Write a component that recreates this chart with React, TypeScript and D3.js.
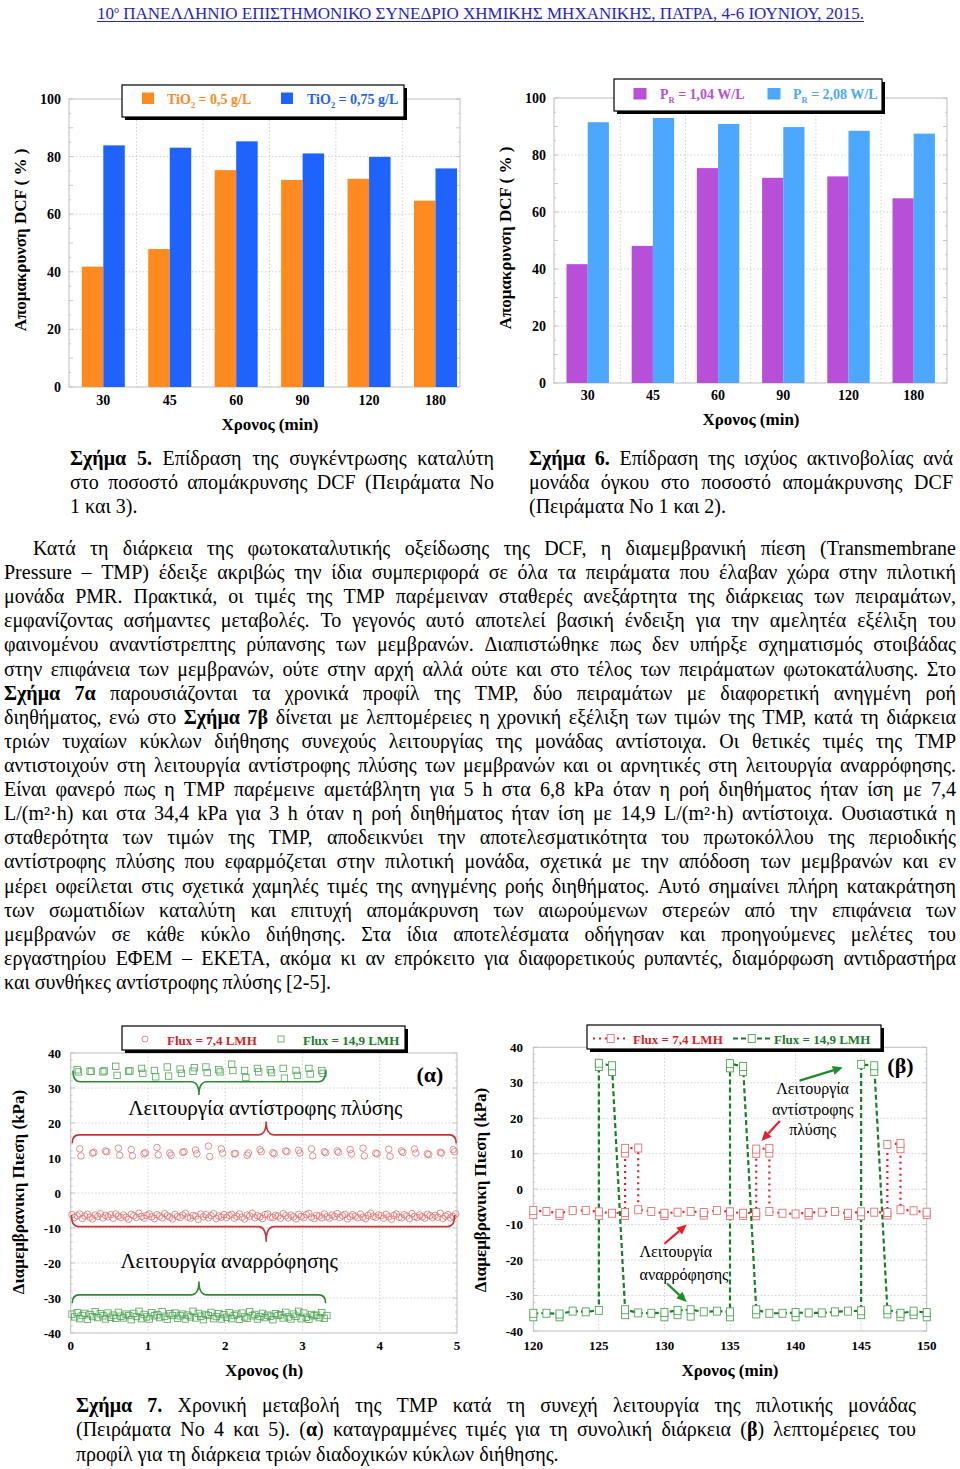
import React from 'react';
import * as d3 from 'd3';

const FONT = "'Liberation Serif', 'Times New Roman', Times, serif";

// ---------------- DATA ----------------
const timeCats = ['30', '45', '60', '90', '120', '180'];
const fig5Tio05 = [41.8, 47.9, 75.3, 71.9, 72.3, 64.7];
const fig5Tio075 = [83.9, 83.1, 85.3, 81.1, 79.9, 75.9];
const fig6Pr104 = [41.7, 48.1, 75.4, 72.0, 72.5, 64.8];
const fig6Pr208 = [91.5, 93.0, 90.9, 89.8, 88.5, 87.5];
const pctTicks = [0, 20, 40, 60, 80, 100];

const tmpTicks = [-40, -30, -20, -10, 0, 10, 20, 30, 40];
const hourTicks = [0, 1, 2, 3, 4, 5];
const minTicks = [120, 125, 130, 135, 140, 145, 150];

// Fig 7a: suction readings (kPa), one every 2 min starting at 1 min
const alphaRedSuction = [
  -6.2, -7.0, -6.5, -6.0, -7.3, -6.6, -6.1, -6.9, -7.4, -6.3, -6.7, -5.9, -7.1, -6.4, -6.8, -6.2, -7.2, -6.0, -6.6, -7.0,
  -6.3, -6.9, -7.5, -6.1, -6.5, -7.0, -5.8, -6.7, -7.2, -6.4, -6.0, -6.8, -7.3, -6.2, -6.6, -7.1, -5.9, -6.5, -6.9, -7.4,
  -6.1, -6.7, -7.0, -6.3, -5.8, -6.9, -7.2, -6.4, -6.6, -7.5, -6.0, -6.8, -6.2, -7.1, -6.5, -5.9, -7.3, -6.6, -6.9, -6.2,
  -7.0, -6.4, -6.1, -7.2, -6.7, -6.0, -6.9, -7.4, -6.3, -6.6, -5.8, -7.1, -6.5, -6.8, -7.3, -6.2, -6.0, -6.9, -7.0, -6.4,
  -6.6, -7.2, -5.9, -6.5, -7.1, -6.3, -6.8, -7.4, -6.1, -6.7, -7.0, -6.2, -5.8, -6.9, -7.3, -6.4, -6.6, -7.1, -6.0, -6.8,
  -7.2, -6.3, -6.7, -5.9, -7.0, -6.5, -6.1, -7.4, -6.8, -6.2, -6.6, -7.1, -6.0, -6.9, -7.3, -6.4, -5.8, -6.7, -7.0, -6.3,
  -6.5, -7.2, -6.1, -6.8, -7.5, -6.4, -6.0, -6.9, -7.1, -6.2, -6.6, -7.3, -5.9, -6.7, -7.0, -6.3, -6.8, -7.2, -6.1, -6.5,
  -7.0, -6.4, -6.9, -5.8, -7.3, -6.6, -6.2, -7.1, -6.7, -6.0,
];
const alphaGreenSuction = [
  -34.6, -35.4, -34.2, -35.9, -35.0, -34.4, -36.1, -34.8, -35.3, -33.9, -35.6, -34.5, -35.1, -36.0, -34.3, -35.5, -34.9, -35.8, -34.1, -35.2,
  -35.7, -34.6, -35.0, -36.2, -34.4, -35.3, -33.8, -35.9, -34.7, -35.4, -36.0, -34.2, -35.1, -34.8, -35.6, -33.9, -35.2, -36.1, -34.5, -35.0,
  -34.3, -35.8, -35.1, -34.6, -36.0, -34.9, -35.4, -33.8, -35.7, -34.4, -35.2, -36.2, -34.7, -35.0, -34.1, -35.9, -35.3, -34.5, -36.0, -34.8,
  -35.5, -34.2, -35.9, -35.0, -34.6, -36.1, -34.3, -35.4, -35.8, -33.9, -35.1, -34.7, -36.0, -35.3, -34.4, -35.6, -34.9, -35.2, -36.2, -34.5,
  -35.0, -34.8, -35.7, -34.1, -35.4, -36.0, -34.6, -35.2, -33.8, -35.9, -34.3, -35.5, -36.1, -34.7, -35.1, -34.9, -35.6, -34.2, -35.8, -35.0,
];
// Fig 7a: backwash readings, one event every 10 min, two readings per event
// red: first event at 7 min, green: first event at 5 min
const alphaRedBackwash = [
  [12.6, 10.6], [11.4, 11.6], [12.0, 11.8], [12.8, 10.8], [12.4, 10.6], [11.2, 11.5], [13.0, 10.9], [11.4, 10.8], [11.6, 11.8], [12.3, 11.2],
  [13.4, 10.4], [12.6, 11.4], [11.2, 11.3], [10.8, 11.4], [12.4, 11.8], [11.5, 11.2], [12.0, 11.8], [12.2, 11.4], [12.6, 10.6], [11.8, 11.5],
  [12.0, 11.6], [12.4, 11.2], [12.8, 10.6], [11.4, 11.2], [12.5, 10.5], [12.0, 11.6], [12.6, 11.4], [11.2, 11.0], [11.6, 11.4], [12.4, 11.8],
];
const alphaGreenBackwash = [
  [35.2, 34.6], [34.8, 34.8], [34.6, 34.9], [36.2, 33.6], [34.8, 34.9], [35.6, 34.2], [35.0, 33.2], [36.0, 33.4], [35.4, 34.2], [34.8, 35.8],
  [36.0, 34.4], [35.2, 34.6], [36.8, 35.0], [35.0, 33.0], [35.6, 34.6], [35.2, 34.4], [35.6, 32.8], [35.0, 33.6], [35.6, 34.0], [35.0, 34.2],
];

// Fig 7b: detailed cycles (min, kPa); second reading where two markers overlap
const betaGreenT = [120, 121, 122, 123, 124, 125, 125, 126, 127, 128, 129, 130, 131, 132, 133, 134, 135, 135, 136, 137, 138, 139, 140, 141, 142, 143, 144, 145, 145, 146, 147, 148, 149, 150];
const betaGreenP = [-35.0, -35.0, -35.2, -34.4, -34.6, -34.2, 35.5, 34.8, -34.0, -34.9, -35.0, -34.8, -34.2, -34.0, -34.6, -34.4, -34.6, 35.4, 34.6, -34.0, -35.0, -35.0, -34.8, -34.9, -34.9, -34.6, -34.4, -34.3, 35.2, 34.8, -34.0, -35.0, -34.4, -34.8];
const betaGreenP2 = [-36.0, null, -36.0, null, null, null, 34.6, 33.2, -35.4, null, null, -36.0, -35.4, -35.8, null, null, -36.0, 34.2, 33.2, -35.2, null, null, -36.0, null, null, null, null, -35.4, null, 33.2, -35.2, -36.0, -35.4, -36.0];

const betaRedT = [120, 121, 122, 123, 124, 125, 126, 127, 127, 128, 128, 129, 130, 131, 132, 133, 134, 135, 136, 137, 137, 138, 138, 139, 140, 141, 142, 143, 144, 145, 146, 147, 147, 148, 148, 149, 150];
const betaRedP = [-6.0, -6.3, -6.8, -6.0, -6.0, -6.4, -6.8, -6.6, 11.5, 11.6, -5.8, -6.3, -6.8, -6.5, -6.3, -6.6, -6.0, -6.4, -6.8, -6.6, 11.3, 11.5, -6.3, -6.8, -7.0, -6.6, -6.5, -6.3, -6.8, -6.4, -6.5, -6.6, 12.6, 12.9, -5.8, -6.1, -6.5];
const betaRedP2 = [-7.2, null, -7.4, null, null, -7.4, null, -7.4, 10.2, null, null, null, -7.4, null, null, -7.3, null, -7.4, -7.4, -7.5, 10.1, 10.2, null, null, null, -7.3, null, null, -7.4, -7.5, null, -7.3, null, 11.4, null, null, -7.2];

// ---------------- TEXT ----------------
const headerText = 'ΠΑΝΕΛΛΗΝΙΟ ΕΠΙΣΤΗΜΟΝΙΚΟ ΣΥΝΕΔΡΙΟ ΧΗΜΙΚΗΣ ΜΗΧΑΝΙΚΗΣ, ΠΑΤΡΑ, 4-6 ΙΟΥΝΙΟΥ, 2015.';

const fig5Caption = [
  '**Σχήμα 5.** Επίδραση της συγκέντρωσης καταλύτη',
  'στο ποσοστό απομάκρυνσης DCF (Πειράματα Νο',
  '1 και 3).',
];
const fig6Caption = [
  '**Σχήμα 6.** Επίδραση της ισχύος ακτινοβολίας ανά',
  'μονάδα όγκου στο ποσοστό απομάκρυνσης DCF',
  '(Πειράματα Νο 1 και 2).',
];
const bodyLines = [
  'Κατά τη διάρκεια της φωτοκαταλυτικής οξείδωσης της DCF, η διαμεμβρανική πίεση (Transmembrane',
  'Pressure – TMP) έδειξε ακριβώς την ίδια συμπεριφορά σε όλα τα πειράματα που έλαβαν χώρα στην πιλοτική',
  'μονάδα PMR. Πρακτικά, οι τιμές της TMP παρέμειναν σταθερές ανεξάρτητα της διάρκειας των πειραμάτων,',
  'εμφανίζοντας ασήμαντες μεταβολές. Το γεγονός αυτό αποτελεί βασική ένδειξη για την αμελητέα εξέλιξη του',
  'φαινομένου αναντίστρεπτης ρύπανσης των μεμβρανών. Διαπιστώθηκε πως δεν υπήρξε σχηματισμός στοιβάδας',
  'στην επιφάνεια των μεμβρανών, ούτε στην αρχή αλλά ούτε και στο τέλος των πειράματων φωτοκατάλυσης. Στο',
  '**Σχήμα 7α** παρουσιάζονται τα χρονικά προφίλ της TMP, δύο πειραμάτων με διαφορετική ανηγμένη ροή',
  'διηθήματος, ενώ στο **Σχήμα 7β** δίνεται με λεπτομέρειες η χρονική εξέλιξη των τιμών της TMP, κατά τη διάρκεια',
  'τριών τυχαίων κύκλων διήθησης συνεχούς λειτουργίας της μονάδας αντίστοιχα. Οι θετικές τιμές της TMP',
  'αντιστοιχούν στη λειτουργία αντίστροφης πλύσης των μεμβρανών και οι αρνητικές στη λειτουργία αναρρόφησης.',
  'Είναι φανερό πως η TMP παρέμεινε αμετάβλητη για 5 h στα 6,8 kPa όταν η ροή διηθήματος ήταν ίση με 7,4',
  'L/(m²·h) και στα 34,4 kPa για 3 h όταν η ροή διηθήματος ήταν ίση με 14,9 L/(m²·h) αντίστοιχα. Ουσιαστικά η',
  'σταθερότητα των τιμών της TMP, αποδεικνύει την αποτελεσματικότητα του πρωτοκόλλου της περιοδικής',
  'αντίστροφης πλύσης που εφαρμόζεται στην πιλοτική μονάδα, σχετικά με την απόδοση των μεμβρανών και εν',
  'μέρει οφείλεται στις σχετικά χαμηλές τιμές της ανηγμένης ροής διηθήματος. Αυτό σημαίνει πλήρη κατακράτηση',
  'των σωματιδίων καταλύτη και επιτυχή απομάκρυνση των αιωρούμενων στερεών από την επιφάνεια των',
  'μεμβρανών σε κάθε κύκλο διήθησης. Στα ίδια αποτελέσματα οδήγησαν και προηγούμενες μελέτες του',
  'εργαστηρίου ΕΦΕΜ – ΕΚΕΤΑ, ακόμα κι αν επρόκειτο για διαφορετικούς ρυπαντές, διαμόρφωση αντιδραστήρα',
  'και συνθήκες αντίστροφης πλύσης [2-5].',
];
const fig7Caption = [
  '**Σχήμα 7.** Χρονική μεταβολή της TMP κατά τη συνεχή λειτουργία της πιλοτικής μονάδας',
  '(Πειράματα Νο 4 και 5). (**α**) καταγραμμένες τιμές για τη συνολική διάρκεια (**β**) λεπτομέρειες του',
  'προφίλ για τη διάρκεια τριών διαδοχικών κύκλων διήθησης.',
];

// ---------------- COLOURS ----------------
const C = {
  orange: '#ff8a1f', blue: '#1f63ff', purple: '#b84fd9', sky: '#4ba7ff',
  red: '#d61f26', green: '#1d7b2a', redMk: '#e07272', greenMk: '#4ea655',
  grid: '#c6c6c6', frame: '#bdbdbd', header: '#2424c8',
};

// ---------------- TEXT LAYOUT HELPERS ----------------
let _ctx: any = null;
function tw(t: string, size: number, bold: boolean) {
  if (!_ctx) _ctx = document.createElement('canvas').getContext('2d');
  _ctx.font = `${bold ? 'bold ' : ''}${size}px "Liberation Serif"`;
  return _ctx.measureText(t).width;
}
type Run = { t: string; b: boolean };
function parseWords(s: string): Run[][] {
  const words: Run[][] = [];
  let cur: Run[] = [];
  let bold = false;
  let buf = '';
  const flush = () => { if (buf) { cur.push({ t: buf, b: bold }); buf = ''; } };
  for (let i = 0; i < s.length; i++) {
    if (s[i] === '*' && s[i + 1] === '*') { flush(); bold = !bold; i++; continue; }
    if (s[i] === ' ') { flush(); if (cur.length) words.push(cur); cur = []; continue; }
    buf += s[i];
  }
  flush();
  if (cur.length) words.push(cur);
  return words;
}
function layoutLines(lines: string[], size: number, width: number, indent: number) {
  return lines.map((s, i) => {
    const words = parseWords(s);
    const widths = words.map(w => w.reduce((a, r) => a + tw(r.t, size, r.b), 0));
    const sum = widths.reduce((a, b) => a + b, 0);
    const avail = width - (i === 0 ? indent : 0);
    const justify = i < lines.length - 1;
    return { words, widths, sum, avail, justify };
  });
}
function fitScale(lines: string[], size: number, width: number, indent = 0) {
  const space = tw(' ', size, false);
  let s = 1;
  layoutLines(lines, size, width, indent).forEach(l => {
    if (l.justify && l.words.length > 1) s = Math.min(s, l.avail / (l.sum + space * (l.words.length - 1)));
  });
  return s;
}

function Para({ lines, x, y, width, lh, size, indent = 0, maxScale = 1 }: any) {
  const space = tw(' ', size, false);
  const L = layoutLines(lines, size, width, indent);
  const s = Math.min(maxScale, fitScale(lines, size, width, indent));
  return (
    <g transform={`translate(${x},0) scale(${s},1)`} fontFamily={FONT} fontSize={size} fill="#000">
      {L.map((l, i) => {
        const n = l.words.length;
        const gap = l.justify && n > 1 ? (l.avail / s - l.sum) / (n - 1) : space;
        let pos = (i === 0 ? indent : 0) / s;
        return l.words.map((w, j) => {
          const px = pos;
          pos += l.widths[j] + gap;
          return (
            <text key={`${i}-${j}`} x={px} y={y + i * lh}>
              {w.map((r, k) => <tspan key={k} fontWeight={r.b ? 'bold' : 'normal'}>{r.t}</tspan>)}
            </text>
          );
        });
      })}
    </g>
  );
}

function LegendBox({ x, y, w, h }: any) {
  return (
    <g>
      <rect x={x + 3} y={y + 3} width={w} height={h} fill="#000" />
      <rect x={x} y={y} width={w} height={h} fill="#fff" stroke="#000" strokeWidth={1.2} />
    </g>
  );
}

// ---------------- BAR CHART ----------------
function BarChart(p: any) {
  const y = d3.scaleLinear().domain([0, 100]).range([p.bottom, p.top]);
  const x = d3.scalePoint<string>().domain(timeCats).range([p.c0, p.cN]);
  const step = x.step();
  const minor = d3.range(0, 101, 5);
  return (
    <g fontFamily={FONT}>
      {/* grid */}
      {pctTicks.slice(1, -1).map(t => (
        <line key={'h' + t} x1={p.left} x2={p.right} y1={y(t)} y2={y(t)} stroke={C.grid} strokeWidth={0.8} strokeDasharray="1.5,2" />
      ))}
      {timeCats.slice(1).map(c => (
        <line key={'v' + c} x1={(x(c) as number) - step / 2} x2={(x(c) as number) - step / 2} y1={p.top} y2={p.bottom} stroke={C.grid} strokeWidth={0.8} strokeDasharray="1.5,2" />
      ))}
      {minor.map(t => (
        <g key={'m' + t}>
          <line x1={p.left} x2={p.left + (t % 10 === 0 ? 4 : 2)} y1={y(t)} y2={y(t)} stroke={C.frame} strokeWidth={0.8} />
          <line x1={p.right} x2={p.right - (t % 10 === 0 ? 4 : 2)} y1={y(t)} y2={y(t)} stroke={C.frame} strokeWidth={0.8} />
        </g>
      ))}
      <rect x={p.left} y={p.top} width={p.right - p.left} height={p.bottom - p.top} fill="none" stroke={C.frame} strokeWidth={1} />
      {/* bars */}
      {timeCats.map((c, i) => (
        <g key={c}>
          <rect x={(x(c) as number) - p.barW} y={y(p.a[i])} width={p.barW} height={y(0) - y(p.a[i])} fill={p.colA} />
          <rect x={x(c) as number} y={y(p.b[i])} width={p.barW} height={y(0) - y(p.b[i])} fill={p.colB} />
        </g>
      ))}
      {/* tick labels */}
      {pctTicks.map(t => (
        <text key={'yl' + t} x={p.yLabelX} y={y(t) + 5} textAnchor="end" fontSize={14} fontWeight="bold">{t}</text>
      ))}
      {timeCats.map(c => (
        <text key={'xl' + c} x={x(c) as number} y={p.xLabelY} textAnchor="middle" fontSize={14} fontWeight="bold">{c}</text>
      ))}
      <text transform={`translate(${p.yTitleX},${p.yTitleY}) rotate(-90)`} textAnchor="middle" fontSize={17} fontWeight="bold">Απομακρυνση DCF ( % )</text>
      <text x={p.xTitleX} y={p.xTitleY} textAnchor="middle" fontSize={17} fontWeight="bold">Χρονος (min)</text>
      {p.legend}
    </g>
  );
}

function SubLabel({ x, y, base, sub, rest, color, size = 14 }: any) {
  return (
    <text x={x} y={y} fill={color} fontSize={size} fontWeight="bold" fontFamily={FONT}>
      {base}<tspan dy={4} fontSize={size * 0.6}>{sub}</tspan><tspan dy={-4}>{rest}</tspan>
    </text>
  );
}

// ---------------- TMP CHART FRAME ----------------
function TmpFrame({ x, y, xTicks, xLabelY, yLabelX, xTitle, xTitleX, yTitleX, yTitleY }: any) {
  const [l, r] = x.range();
  const [b, t] = y.range();
  return (
    <g fontFamily={FONT}>
      {tmpTicks.slice(1, -1).map(v => (
        <line key={'h' + v} x1={l} x2={r} y1={y(v)} y2={y(v)} stroke={C.grid} strokeWidth={0.8} strokeDasharray="1.5,2" />
      ))}
      {xTicks.slice(1, -1).map(v => (
        <line key={'v' + v} x1={x(v)} x2={x(v)} y1={t} y2={b} stroke={C.grid} strokeWidth={0.8} strokeDasharray="1.5,2" />
      ))}
      {d3.range(-40, 41, 2).map(v => (
        <g key={'m' + v}>
          <line x1={l} x2={l + (v % 10 === 0 ? 4 : 2)} y1={y(v)} y2={y(v)} stroke={C.frame} strokeWidth={0.8} />
          <line x1={r} x2={r - (v % 10 === 0 ? 4 : 2)} y1={y(v)} y2={y(v)} stroke={C.frame} strokeWidth={0.8} />
        </g>
      ))}
      <rect x={l} y={t} width={r - l} height={b - t} fill="none" stroke={C.frame} strokeWidth={1} />
      {tmpTicks.map(v => (
        <text key={'yl' + v} x={yLabelX} y={y(v) + 4.5} textAnchor="end" fontSize={13} fontWeight="bold">{v}</text>
      ))}
      {xTicks.map(v => (
        <text key={'xl' + v} x={x(v)} y={xLabelY} textAnchor="middle" fontSize={13} fontWeight="bold">{v}</text>
      ))}
      <text transform={`translate(${yTitleX},${yTitleY}) rotate(-90)`} textAnchor="middle" fontSize={17} fontWeight="bold">Διαμεμβρανικη Πιεση (kPa)</text>
      <text x={xTitleX} y={1376} textAnchor="middle" fontSize={17} fontWeight="bold">{xTitle}</text>
    </g>
  );
}

function bracePath(x1: number, x2: number, xt: number, yEnd: number, yMid: number, yTip: number) {
  const r = 7, rt = 8;
  return `M${x1},${yEnd} Q${x1},${yMid} ${x1 + r},${yMid} L${xt - rt},${yMid} Q${xt},${yMid} ${xt},${yTip} Q${xt},${yMid} ${xt + rt},${yMid} L${x2 - r},${yMid} Q${x2},${yMid} ${x2},${yEnd}`;
}

function Arrow({ x1, y1, x2, y2, color }: any) {
  const a = Math.atan2(y2 - y1, x2 - x1);
  const L = 10, W = 4.5;
  const bx = x2 - L * Math.cos(a), by = y2 - L * Math.sin(a);
  const pts = `${x2},${y2} ${bx + W * Math.sin(a)},${by - W * Math.cos(a)} ${bx - W * Math.sin(a)},${by + W * Math.cos(a)}`;
  return (
    <g>
      <line x1={x1} y1={y1} x2={bx} y2={by} stroke={color} strokeWidth={2.2} />
      <polygon points={pts} fill={color} />
    </g>
  );
}

function AlphaChart() {
  const x = d3.scaleLinear().domain([0, 5]).range([70.7, 457]);
  const y = d3.scaleLinear().domain([-40, 40]).range([1333, 1053]);
  const redPts = [
    ...alphaRedSuction.map((v, i) => [(1 + 2 * i) / 60, v]),
    ...alphaRedBackwash.flatMap((pr, k) => [[(7 + 10 * k) / 60, pr[0]], [(8 + 10 * k) / 60, pr[1]]]),
  ];
  const greenPts = [
    ...alphaGreenSuction.map((v, i) => [(1 + 2 * i) / 60, v]),
    ...alphaGreenBackwash.flatMap((pr, k) => [[(5 + 10 * k) / 60, pr[0]], [(6 + 10 * k) / 60, pr[1]]]),
  ];
  const sq = 6.4;
  return (
    <g fontFamily={FONT}>
      <TmpFrame x={x} y={y} xTicks={hourTicks} xLabelY={1350} yLabelX={61} xTitle="Χρονος (h)" xTitleX={264} yTitleX={24} yTitleY={1192} />
      {greenPts.map((d, i) => (
        <rect key={'g' + i} x={x(d[0]) - sq / 2} y={y(d[1]) - sq / 2} width={sq} height={sq} fill="none" stroke={C.greenMk} strokeWidth={0.8} />
      ))}
      {redPts.map((d, i) => (
        <circle key={'r' + i} cx={x(d[0])} cy={y(d[1])} r={3.3} fill="none" stroke={C.redMk} strokeWidth={0.8} />
      ))}
      {/* braces & annotations */}
      <path d={bracePath(x(0.03), x(3.3), x(1.66), y(35), y(31.8), y(28))} fill="none" stroke="#2f8a36" strokeWidth={1.6} />
      <path d={bracePath(x(0.02), x(4.99), x(2.53), y(14.2), y(16.6), y(20.4))} fill="none" stroke="#c83434" strokeWidth={1.6} />
      <path d={bracePath(x(0.01), x(4.97), x(2.53), y(-6.3), y(-9.6), y(-13.9))} fill="none" stroke="#c83434" strokeWidth={1.6} />
      <path d={bracePath(x(0.02), x(3.3), x(1.66), y(-31.5), y(-29.1), y(-25.3))} fill="none" stroke="#2f8a36" strokeWidth={1.6} />
      <text x={x(2.52)} y={y(22.4)} textAnchor="middle" fontSize={21}>Λειτουργία αντίστροφης πλύσης</text>
      <text x={x(2.05)} y={y(-21.5)} textAnchor="middle" fontSize={21}>Λειτουργία αναρρόφησης</text>
      <text x={x(4.65)} y={y(31.8)} textAnchor="middle" fontSize={22} fontWeight="bold">(α)</text>
      {/* legend */}
      <LegendBox x={122} y={1026} w={283} h={24} />
      <circle cx={145} cy={1039} r={3} fill="none" stroke={C.redMk} strokeWidth={0.8} />
      <text x={167} y={1044.5} fontSize={13} fontWeight="bold" fill={C.red}>Flux = 7,4 LMH</text>
      <rect x={278} y={1036} width={6} height={6} fill="none" stroke={C.greenMk} strokeWidth={0.8} />
      <text x={303} y={1044.5} fontSize={13} fontWeight="bold" fill={C.green}>Flux = 14,9 LMH</text>
    </g>
  );
}

function BetaChart() {
  const x = d3.scaleLinear().domain([120, 150]).range([533.3, 926.7]);
  const y = d3.scaleLinear().domain([-40, 40]).range([1331, 1047.3]);
  const line = d3.line<number>().x((_, i) => 0).y(() => 0);
  const mk = (T: number[], P: number[]) => d3.line<number>().x((_, i) => x(T[i])).y((v) => y(v))(P) as string;
  void line;
  const w = 7, h = 8;
  const Sq = ({ cx, cy, col }: any) => <rect x={cx - w / 2} y={cy - h / 2} width={w} height={h} fill="#fff" stroke={col} strokeWidth={0.9} />;
  return (
    <g fontFamily={FONT}>
      <TmpFrame x={x} y={y} xTicks={minTicks} xLabelY={1350} yLabelX={523} xTitle="Χρονος (min)" xTitleX={730} yTitleX={486} yTitleY={1190} />
      <path d={mk(betaGreenT, betaGreenP)} fill="none" stroke={C.green} strokeWidth={2.2} strokeDasharray="5,3" />
      <path d={mk(betaRedT, betaRedP)} fill="none" stroke="#e3202a" strokeWidth={2.2} strokeDasharray="2,4" />
      {betaGreenT.map((t, i) => (
        <g key={'g' + i}>
          {betaGreenP2[i] !== null && <Sq cx={x(t)} cy={y(betaGreenP2[i] as number)} col={C.greenMk} />}
          <Sq cx={x(t)} cy={y(betaGreenP[i])} col={C.greenMk} />
        </g>
      ))}
      {betaRedT.map((t, i) => (
        <g key={'r' + i}>
          {betaRedP2[i] !== null && <Sq cx={x(t)} cy={y(betaRedP2[i] as number)} col={C.redMk} />}
          <Sq cx={x(t)} cy={y(betaRedP[i])} col={C.redMk} />
        </g>
      ))}
      {/* annotations */}
      <text x={x(141.3)} y={y(26.9)} textAnchor="middle" fontSize={16}>Λειτουργία</text>
      <text x={x(141.3)} y={y(21.0)} textAnchor="middle" fontSize={16}>αντίστροφης</text>
      <text x={x(141.3)} y={y(15.4)} textAnchor="middle" fontSize={16}>πλύσης</text>
      <Arrow x1={x(140.3)} y1={y(30.6)} x2={x(143.6)} y2={y(34.3)} color="#1f8a2a" />
      <Arrow x1={x(138.8)} y1={y(19.2)} x2={x(137.4)} y2={y(13.6)} color="#e8202a" />
      <text x={x(128.1)} y={y(-19.2)} fontSize={16}>Λειτουργία</text>
      <text x={x(128.1)} y={y(-25.7)} fontSize={16}>αναρρόφησης</text>
      <Arrow x1={x(130.0)} y1={y(-15.4)} x2={x(131.7)} y2={y(-10.0)} color="#e8202a" />
      <Arrow x1={x(130.2)} y1={y(-26.6)} x2={x(131.7)} y2={y(-31.8)} color="#1f8a2a" />
      <text x={x(148.0)} y={y(32.8)} textAnchor="middle" fontSize={22} fontWeight="bold">(β)</text>
      {/* legend */}
      <LegendBox x={587} y={1025} w={294} h={24} />
      <line x1={593} x2={628} y1={1038.5} y2={1038.5} stroke="#e3202a" strokeWidth={2.2} strokeDasharray="2,4" />
      <Sq cx={610.7} cy={1038.5} col={C.redMk} />
      <text x={633} y={1044} fontSize={13} fontWeight="bold" fill={C.red}>Flux = 7,4 LMH</text>
      <line x1={733} x2={770} y1={1038.5} y2={1038.5} stroke={C.green} strokeWidth={2.2} strokeDasharray="5,3" />
      <Sq cx={751.7} cy={1038.5} col={C.greenMk} />
      <text x={774} y={1044} fontSize={13} fontWeight="bold" fill={C.green}>Flux = 14,9 LMH</text>
    </g>
  );
}

export default function App() {
  const bodyScale = fitScale(bodyLines, 20, 952, 29);
  return (
    <div style={{ position: 'absolute', left: 0, top: 0, width: 960, height: 1469, background: '#fff' }}>
      <svg width={960} height={1469} viewBox="0 0 960 1469" style={{ display: 'block' }}>
        <rect width={960} height={1469} fill="#fff" />
        {/* header */}
        <text x={97} y={19} fontFamily={FONT} fontSize={17} fill={C.header} textLength={767} lengthAdjust="spacingAndGlyphs">
          10<tspan dy={-6} fontSize={10}>ο</tspan><tspan dy={6}> {headerText}</tspan>
        </text>
        <line x1={97} x2={864} y1={21.5} y2={21.5} stroke={C.header} strokeWidth={1} />

        {/* Figure 5 */}
        <BarChart
          left={69} right={460} top={99} bottom={387} c0={103.3} cN={435.5} barW={21.5}
          a={fig5Tio05} b={fig5Tio075} colA={C.orange} colB={C.blue}
          yLabelX={61} xLabelY={405} yTitleX={26} yTitleY={240} xTitleX={270} xTitleY={430}
          legend={
            <g>
              <LegendBox x={122} y={85} w={282} h={32} />
              <rect x={142} y={92.5} width={12} height={11.5} fill={C.orange} />
              <SubLabel x={167} y={103.5} base="TiO" sub="2" rest=" = 0,5 g/L" color={C.orange} />
              <rect x={281} y={92.5} width={12} height={11.5} fill={C.blue} />
              <SubLabel x={307} y={103.5} base="TiO" sub="2" rest=" = 0,75 g/L" color={C.blue} />
            </g>
          }
        />
        {/* Figure 6 */}
        <BarChart
          left={554} right={947} top={98} bottom={383} c0={587.7} cN={913.7} barW={21.2}
          a={fig6Pr104} b={fig6Pr208} colA={C.purple} colB={C.sky}
          yLabelX={546} xLabelY={400} yTitleX={511} yTitleY={238} xTitleX={751} xTitleY={425}
          legend={
            <g>
              <LegendBox x={614} y={79} w={268} h={32} />
              <rect x={633.5} y={88} width={13} height={11.5} fill={C.purple} />
              <SubLabel x={660} y={98.5} base="P" sub="R" rest=" = 1,04 W/L" color={C.purple} />
              <rect x={767.5} y={88} width={13} height={11.5} fill={C.sky} />
              <SubLabel x={793} y={98.5} base="P" sub="R" rest=" = 2,08 W/L" color={C.sky} />
            </g>
          }
        />

        <Para lines={fig5Caption} x={70} y={465} width={424} lh={24} size={20} maxScale={bodyScale} />
        <Para lines={fig6Caption} x={529} y={465} width={424} lh={24} size={20} maxScale={bodyScale} />
        <Para lines={bodyLines} x={4} y={555} width={952} lh={24.11} size={20} indent={29} />

        <AlphaChart />
        <BetaChart />

        <Para lines={fig7Caption} x={76} y={1412} width={840} lh={24.3} size={20} maxScale={bodyScale} />
      </svg>
    </div>
  );
}
